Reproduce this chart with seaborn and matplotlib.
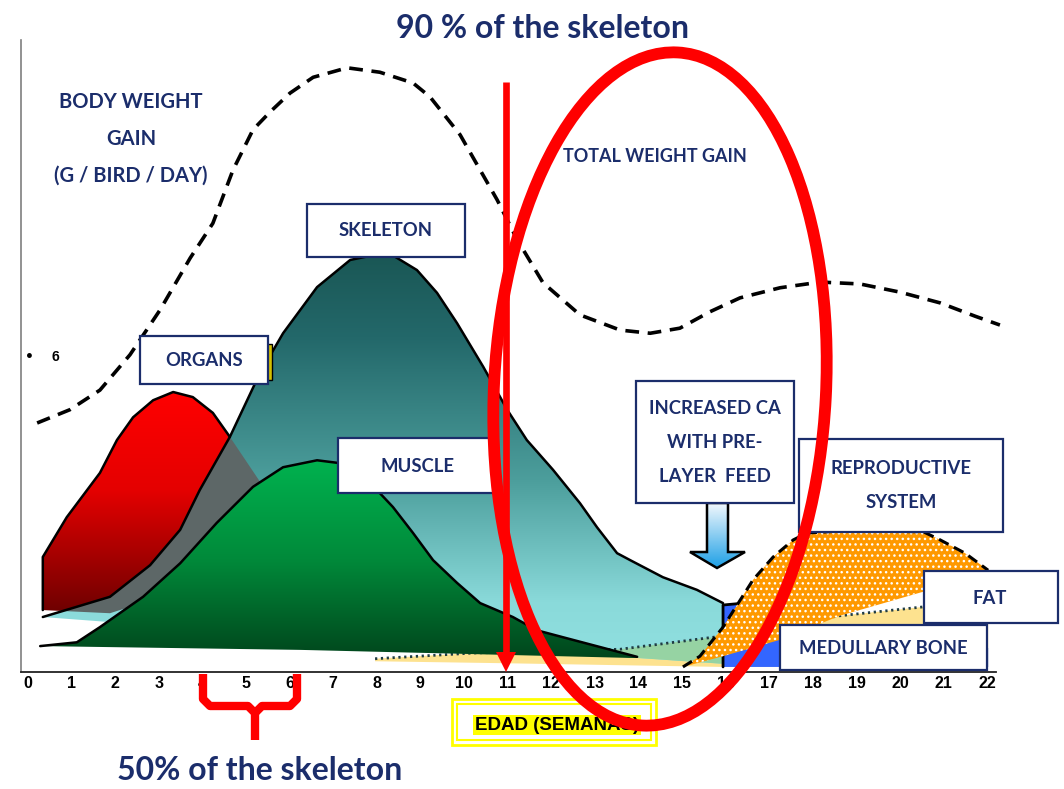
import numpy as np
import matplotlib
matplotlib.use("Agg")
import matplotlib.pyplot as plt
import seaborn as sns
from matplotlib.patches import Polygon, Rectangle, Ellipse
from matplotlib.lines import Line2D
from matplotlib.colors import LinearSegmentedColormap

W, H = 1064, 789
NAVY = "#1b2d6b"
NARROW = ["Lato", "DejaVu Sans"]

# age in weeks and relative daily gain (0-100 scale)
weeks = list(range(23))

total_x = [0.21, 0.96, 1.65, 2.34, 3.03, 3.72, 4.24, 4.70, 5.16, 5.55, 6.01, 6.54, 7.32, 8.07,
           8.83, 9.22, 9.91, 10.76, 11.22, 11.81, 12.66, 13.58, 14.27, 14.95, 15.64, 16.33,
           17.25, 18.17, 19.08, 20.00, 20.92, 21.72, 22.29]
total_y = [39.4, 41.5, 44.6, 50.2, 57.3, 65.5, 71.0, 79.4, 85.8, 88.6, 91.6, 94.1, 95.6, 94.9,
           93.2, 91.0, 85.0, 74.7, 68.4, 61.6, 56.5, 54.1, 53.6, 54.4, 57.0, 59.2,
           60.8, 61.7, 61.4, 60.1, 58.4, 56.3, 54.9]

organs_x = [0.34, 0.34, 0.89, 1.65, 2.04, 2.41, 2.87, 3.33, 3.78, 4.24, 4.63, 5.37, 6.01, 3.94, 1.88]
organs_y = [9.8, 18.2, 24.5, 31.5, 36.7, 40.3, 43.0, 44.3, 43.5, 41.0, 37.2, 29.6, 22.5, 13.8, 9.3]
organs_edge = 11  # outline drawn up to this point

skel_x = [0.34, 1.88, 2.80, 3.49, 3.94, 4.63, 5.32, 5.85, 6.63, 7.39, 7.96, 8.42, 8.92, 9.38,
          9.84, 10.44, 10.99, 11.44, 12.04, 12.66, 13.05, 13.51, 13.81, 14.56, 15.34, 15.94]
skel_y = [8.7, 11.9, 16.9, 22.5, 28.8, 37.2, 47.3, 53.6, 60.9, 65.2, 66.0, 65.7, 63.6, 60.0,
          55.2, 48.3, 41.5, 36.7, 32.0, 26.7, 22.9, 18.8, 17.7, 15.0, 13.0, 10.9]
skel_base_x = [15.94, 1.88, 0.34]
skel_base_y = [1.3, 7.9, 8.7]

musc_x = [0.28, 1.12, 1.65, 2.64, 3.49, 4.33, 5.16, 5.85, 6.63, 7.09, 7.61, 8.07, 8.37, 8.83,
          9.29, 9.84, 10.37, 11.12, 11.67, 12.27, 13.97]
musc_y = [4.1, 4.7, 7.1, 11.9, 17.2, 23.6, 29.3, 32.4, 33.5, 33.1, 30.7, 28.3, 26.1, 22.0,
          17.7, 14.1, 10.9, 8.7, 6.6, 5.5, 2.4]
musc_base_x = [13.97, 6.24, 0.28]
musc_base_y = [2.2, 3.5, 4.1]

fat_x = [7.96, 10.21, 13.58, 15.94, 18.62, 20.53, 22.02]
fat_y = [2.1, 3.0, 3.6, 5.7, 8.9, 10.3, 10.9]
fat_base_x = [22.02, 15.94, 10.83, 7.96]
fat_base_y = [0.8, 0.8, 1.4, 1.7]

bone_x = [15.94, 15.94, 16.26, 16.56, 17.25, 18.85, 22.02, 22.02]
bone_y = [0.8, 10.6, 10.8, 10.1, 7.4, 5.1, 3.8, 0.8]

rep_top_x = [15.02, 15.41, 15.94, 16.63, 17.09, 17.55, 17.87, 18.62, 20.53, 20.92, 21.49, 22.02]
rep_top_y = [0.8, 2.5, 7.1, 14.6, 18.2, 20.9, 22.0, 22.3, 22.2, 20.9, 18.8, 16.1]
rep_base_x = [22.02, 20.53, 18.62, 17.25, 15.94]
rep_base_y = [14.9, 12.7, 8.9, 5.1, 2.5]


def gradient_fill(ax, xs, ys, stops, z):
    poly = Polygon(np.column_stack([xs, ys]), closed=True, facecolor="none", edgecolor="none")
    ax.add_patch(poly)
    cmap = LinearSegmentedColormap.from_list("g", stops)
    grad = np.linspace(0, 1, 256).reshape(-1, 1)
    im = ax.imshow(grad, cmap=cmap, vmin=0, vmax=1, aspect="auto", origin="upper",
                   extent=[min(xs), max(xs), min(ys), max(ys)], zorder=z, interpolation="bilinear")
    im.set_clip_path(poly)
    return poly


def px(x, y):
    # picture pixel -> inches from bottom-left (for annotations)
    return x / 100, (H - y) / 100


sns.set_theme(style="white")
plt.rcParams["font.family"] = ["Liberation Sans", "DejaVu Sans"]
plt.rcParams["hatch.linewidth"] = 1.0

fig = plt.figure(figsize=(W / 100, H / 100), dpi=100)
ax = fig.add_axes([21 / W, 1 - 672 / H, (996 - 21) / W, (672 - 40) / H])

# total weight gain
sns.lineplot(x=total_x, y=total_y, ax=ax, color="black", lw=2.6, sort=False,
             estimator=None, linestyle=(0, (3.8, 2.4)), clip_on=False, zorder=3)

# fat
ax.fill(fat_x + fat_base_x, fat_y + fat_base_y, color="#fde28f", lw=0, zorder=2)

# organs
org_poly = gradient_fill(ax, organs_x, organs_y,
                         [(0, "#ff0000"), (0.45, "#e40000"), (1, "#6e0000")], 4)

# skeleton
skx = skel_x + skel_base_x
sky = skel_y + skel_base_y
sk_poly = gradient_fill(ax, skx, sky,
                        [(0, "#1a5755"), (0.2, "#23686a"), (0.55, "#4c9e9c"),
                         (0.85, "#8adada"), (1, "#90e0e0")], 5)
ov = Polygon(np.column_stack([organs_x, organs_y]), facecolor="#5d6767", lw=0, zorder=5.5)
ax.add_patch(ov)
ov.set_clip_path(sk_poly)
fo = Polygon(np.column_stack([fat_x + fat_base_x, fat_y + fat_base_y]), facecolor="#96d3a3",
             lw=0, zorder=5.5)
ax.add_patch(fo)
fo.set_clip_path(sk_poly)

ax.plot(organs_x[:organs_edge], organs_y[:organs_edge], color="black", lw=1.8, zorder=6,
        solid_joinstyle="round")
ax.plot(skel_x, skel_y, color="black", lw=1.8, zorder=6, solid_joinstyle="round")
ax.plot(fat_x, fat_y, color="#203c44", lw=2, linestyle=(0, (0.8, 1.3)), zorder=6.5)

# muscle
gradient_fill(ax, musc_x + musc_base_x, musc_y + musc_base_y,
              [(0, "#00b24f"), (0.5, "#008a3a"), (1, "#00461c")], 7)
ax.plot(musc_x, musc_y, color="black", lw=1.8, zorder=7.5, solid_joinstyle="round")

# medullary bone
ax.fill(bone_x, bone_y, color="#3366ff", lw=0, zorder=8)
ax.plot(bone_x[:4], bone_y[:4], color="black", lw=2, zorder=8.5)

# reproductive system
ax.fill(rep_top_x + rep_base_x, rep_top_y + rep_base_y, facecolor="#ff9900",
        edgecolor="white", lw=0, hatch="...", zorder=9)
ax.plot(rep_top_x, rep_top_y, color="black", lw=2.2, linestyle=(0, (3.5, 2)), zorder=9.5)

ax.set_xlim(-0.16, 22.2)
ax.set_ylim(0, 100)
ax.set_xticks(weeks)
ax.set_xticklabels([str(w) for w in weeks], fontweight="bold", fontsize=11.5, color="black")
ax.tick_params(axis="x", length=0, pad=3)
ax.set_yticks([])
for s in ["top", "right"]:
    ax.spines[s].set_visible(False)
ax.spines["left"].set_color("#7f7f7f")
ax.spines["left"].set_linewidth(1.2)
ax.spines["bottom"].set_color("#222222")
ax.spines["bottom"].set_linewidth(1.3)

# blue arrow under the CA box
ax2 = fig.add_axes([690 / W, 1 - 568 / H, 55 / W, 65 / H])
ax2.set_axis_off()
arr = [(0.309, 1.0), (0.691, 1.0), (0.691, 0.246), (1.0, 0.246), (0.491, 0.0),
       (0.0, 0.246), (0.309, 0.246)]
apoly = Polygon(arr, closed=True, facecolor="none", edgecolor="black", lw=1.8, clip_on=False, zorder=3)
ax2.add_patch(apoly)
im = ax2.imshow(np.linspace(0, 1, 128).reshape(-1, 1), aspect="auto", origin="upper",
                extent=[0, 1, 0, 1], vmin=0, vmax=1,
                cmap=LinearSegmentedColormap.from_list("b", ["#f2f8fd", "#1ea0e6"]))
im.set_clip_path(apoly)
ax2.set_xlim(0, 1)
ax2.set_ylim(0, 1)

T = fig.dpi_scale_trans


def box(x0, y0, x1, y1, ec=NAVY, fc="white", lw=1.6, z=10):
    fig.add_artist(Rectangle(px(x0, y1), (x1 - x0) / 100, (y1 - y0) / 100, transform=T,
                             facecolor=fc, edgecolor=ec, lw=lw, zorder=z))


def label(x, y, s, size, color=NAVY, family=NARROW, ha="center", **kw):
    fig.text(x / W, 1 - y / H, s, ha=ha, va="center", fontsize=size, color=color,
             family=family, fontweight="bold", zorder=11, **kw)


BOX_FS = 13.3

# label boxes
box(264, 344, 272, 380, ec="black", fc="#d4c000", lw=1, z=9.5)
box(140, 336, 268, 384)
label(204, 361, "ORGANS", BOX_FS)
box(307, 204, 465, 257)
label(386, 231, "SKELETON", BOX_FS)
box(338, 438, 495, 493)
label(418, 466, "MUSCLE", BOX_FS)
box(636, 381, 794, 503)
label(715, 409, "INCREASED CA", BOX_FS)
label(715, 443, "WITH PRE-", BOX_FS)
label(715, 476, "LAYER  FEED", BOX_FS)
box(799, 439, 1003, 532)
label(901, 469, "REPRODUCTIVE", BOX_FS)
label(901, 503, "SYSTEM", BOX_FS)
box(924, 571, 1058, 623)
label(990, 599, "FAT", BOX_FS)
box(780, 625, 987, 670)
label(883, 648, "MEDULLARY BONE", BOX_FS)

label(131, 102, "BODY WEIGHT", 14.5)
label(131, 139, "GAIN", 14.5)
label(131, 176, "(G / BIRD / DAY)", 14.5)
label(655, 157, "TOTAL WEIGHT GAIN", 13)
label(29, 357, "\u2022", 10, color="black", family=["DejaVu Sans"])
label(55, 357, "6", 10, color="black", family=["Liberation Sans"])

label(543, 28, "90 % of the skeleton", 23)
label(260, 770, "50% of the skeleton", 23)

# x axis title
box(452, 699, 656, 745, ec="#ffff00", fc="none", lw=2)
box(457, 704, 651, 740, ec="#ffff00", fc="none", lw=1.5)
label(475, 725, "EDAD (SEMANAS)", 13.5, color="black", family=["Liberation Sans"], ha="left",
      bbox=dict(boxstyle="square,pad=0.1", fc="#ffff00", ec="none"))

# red annotations
fig.add_artist(Line2D([5.06, 5.06], [(H - 82) / 100, (H - 656) / 100], transform=T,
                      color="red", lw=4.8, solid_capstyle="butt", zorder=12))
fig.add_artist(Polygon([px(496, 652), px(516, 652), px(506, 672)], closed=True, transform=T,
                       facecolor="red", edgecolor="none", zorder=12))
fig.add_artist(Ellipse(px(660, 389), 3.32, 6.74, angle=-3, transform=T, fill=False,
                       edgecolor="red", lw=8.5, zorder=12))
brace_l = [px(203, 674), px(203, 699), px(210, 706), px(248, 706), px(255, 713), px(255, 740)]
brace_r = [px(255, 713), px(262, 706), px(290, 706), px(297, 699), px(297, 674)]
for pts in (brace_l, brace_r):
    xs, ys = zip(*pts)
    fig.add_artist(Line2D(xs, ys, transform=T, color="red", lw=6, solid_joinstyle="round",
                          solid_capstyle="butt", zorder=12))

fig.savefig("out.png", dpi=100)
